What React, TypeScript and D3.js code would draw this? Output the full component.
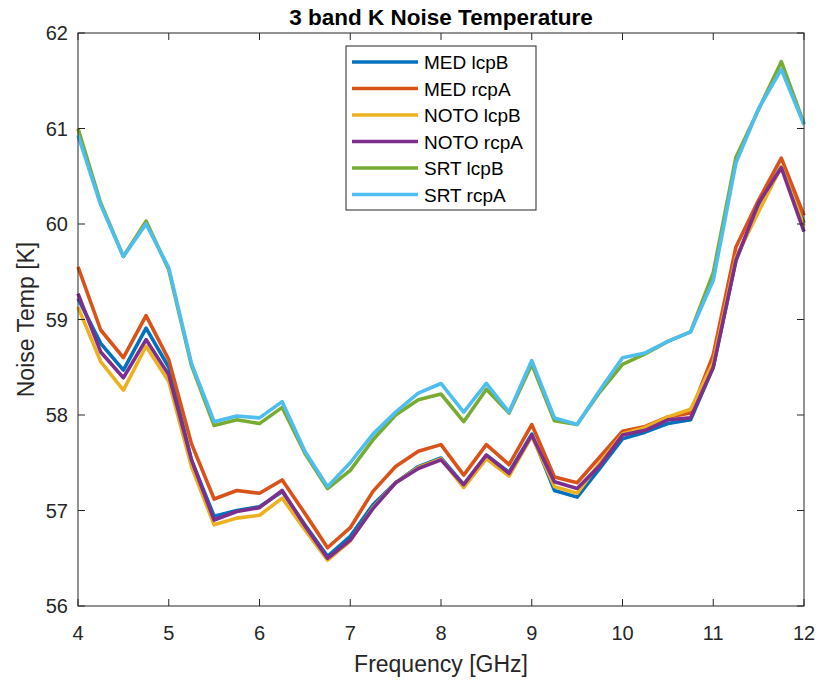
import * as d3 from 'd3'

const freq = [4, 4.25, 4.5, 4.75, 5, 5.25, 5.5, 5.75, 6, 6.25, 6.5, 6.75, 7, 7.25, 7.5, 7.75, 8, 8.25, 8.5, 8.75, 9, 9.25, 9.5, 9.75, 10, 10.25, 10.5, 10.75, 11, 11.25, 11.5, 11.75, 12]

const medLcpB = [59.22, 58.75, 58.47, 58.91, 58.5, 57.53, 56.94, 57.0, 57.04, 57.2, 56.85, 56.52, 56.73, 57.06, 57.29, 57.46, 57.55, 57.27, 57.58, 57.4, 57.8, 57.21, 57.14, 57.44, 57.75, 57.82, 57.91, 57.95, 58.5, 59.62, 60.2, 60.6, 60.01]
const medRcpA = [59.55, 58.89, 58.6, 59.04, 58.58, 57.7, 57.12, 57.21, 57.18, 57.32, 56.97, 56.61, 56.82, 57.2, 57.46, 57.62, 57.69, 57.37, 57.69, 57.48, 57.9, 57.35, 57.29, 57.56, 57.83, 57.88, 57.98, 58.02, 58.63, 59.76, 60.25, 60.69, 60.09]
const notoLcpB = [59.13, 58.56, 58.26, 58.72, 58.35, 57.46, 56.85, 56.92, 56.95, 57.13, 56.8, 56.48, 56.68, 57.03, 57.29, 57.45, 57.54, 57.24, 57.54, 57.36, 57.78, 57.25, 57.18, 57.5, 57.8, 57.87, 57.98, 58.06, 58.55, 59.65, 60.13, 60.6, 59.98]
const notoRcpA = [59.27, 58.66, 58.39, 58.79, 58.42, 57.53, 56.9, 56.99, 57.03, 57.21, 56.84, 56.5, 56.69, 57.02, 57.29, 57.44, 57.53, 57.27, 57.58, 57.39, 57.79, 57.3, 57.23, 57.47, 57.79, 57.84, 57.95, 57.97, 58.5, 59.62, 60.22, 60.59, 59.92]
const srtLcpB = [61.0, 60.22, 59.66, 60.03, 59.52, 58.52, 57.89, 57.95, 57.91, 58.08, 57.6, 57.23, 57.42, 57.74, 58.0, 58.16, 58.22, 57.93, 58.27, 58.02, 58.53, 57.94, 57.9, 58.24, 58.53, 58.64, 58.77, 58.87, 59.49, 60.7, 61.2, 61.7, 61.05]
const srtRcpA = [60.93, 60.2, 59.66, 60.0, 59.54, 58.54, 57.93, 57.99, 57.97, 58.14, 57.62, 57.25, 57.5, 57.8, 58.03, 58.23, 58.33, 58.03, 58.33, 58.03, 58.57, 57.97, 57.9, 58.26, 58.6, 58.65, 58.77, 58.87, 59.41, 60.64, 61.21, 61.62, 61.04]

const seriesNames = ['MED lcpB', 'MED rcpA', 'NOTO lcpB', 'NOTO rcpA', 'SRT lcpB', 'SRT rcpA']
const seriesValues = [medLcpB, medRcpA, notoLcpB, notoRcpA, srtLcpB, srtRcpA]
const colors = ['#0072BD', '#D95319', '#EDB120', '#7E2F8E', '#77AC30', '#4DBEEE']

const xTicks = [4, 5, 6, 7, 8, 9, 10, 11, 12]
const yTicks = [56, 57, 58, 59, 60, 61, 62]

export default function App() {
  const W = 822, H = 684
  const m = { top: 33, right: 18, bottom: 78, left: 78 }
  const iW = W - m.left - m.right
  const iH = H - m.top - m.bottom

  const x = d3.scaleLinear().domain([4, 12]).range([0, iW])
  const y = d3.scaleLinear().domain([56, 62]).range([iH, 0])
  const line = d3.line<number>().x((_, i) => x(freq[i])).y(d => y(d))

  const axisCol = '#262626'
  const font = 'Liberation Sans, Arial, Helvetica, sans-serif'
  const tl = 7

  // legend box
  const lg = { x: 346 - m.left, y: 46 - m.top, w: 190, h: 164, row: 26.5 }

  return (
    <svg width={W} height={H} style={{ position: 'absolute', left: 0, top: 0, background: '#fff' }} fontFamily={font}>
      <g transform={`translate(${m.left},${m.top})`}>
        <rect width={iW} height={iH} fill="#fff" />

        {seriesValues.map((vals, k) => (
          <path key={k} d={line(vals) ?? ''} fill="none" stroke={colors[k]} strokeWidth={3.6} strokeLinejoin="round" />
        ))}

        {/* box */}
        <rect width={iW} height={iH} fill="none" stroke={axisCol} strokeWidth={1} />

        {xTicks.map(t => (
          <g key={`x${t}`}>
            <line x1={x(t)} x2={x(t)} y1={iH} y2={iH - tl} stroke={axisCol} />
            <line x1={x(t)} x2={x(t)} y1={0} y2={tl} stroke={axisCol} />
            <text x={x(t)} y={iH + 34} textAnchor="middle" fontSize={20} fill={axisCol}>{t}</text>
          </g>
        ))}
        {yTicks.map(t => (
          <g key={`y${t}`}>
            <line x1={0} x2={tl} y1={y(t)} y2={y(t)} stroke={axisCol} />
            <line x1={iW} x2={iW - tl} y1={y(t)} y2={y(t)} stroke={axisCol} />
            <text x={-10} y={y(t) + 7} textAnchor="end" fontSize={20} fill={axisCol}>{t}</text>
          </g>
        ))}

        <text x={iW / 2} y={iH + 66} textAnchor="middle" fontSize={23} fill={axisCol}>Frequency [GHz]</text>
        <text transform={`translate(${-44},${iH / 2}) rotate(-90)`} textAnchor="middle" fontSize={23} fill={axisCol}>Noise Temp [K]</text>
        <text x={iW / 2} y={-8} textAnchor="middle" fontSize={22.5} fontWeight="bold" fill="#000">3 band K Noise Temperature</text>

        <g transform={`translate(${lg.x},${lg.y})`}>
          <rect width={lg.w} height={lg.h} fill="#fff" stroke={axisCol} strokeWidth={1} />
          {seriesNames.map((name, k) => (
            <g key={name} transform={`translate(0,${16 + k * lg.row})`}>
              <line x1={6} x2={72} y1={0} y2={0} stroke={colors[k]} strokeWidth={3.6} />
              <text x={78} y={7} fontSize={19} fill="#000">{name}</text>
            </g>
          ))}
        </g>
      </g>
    </svg>
  )
}
